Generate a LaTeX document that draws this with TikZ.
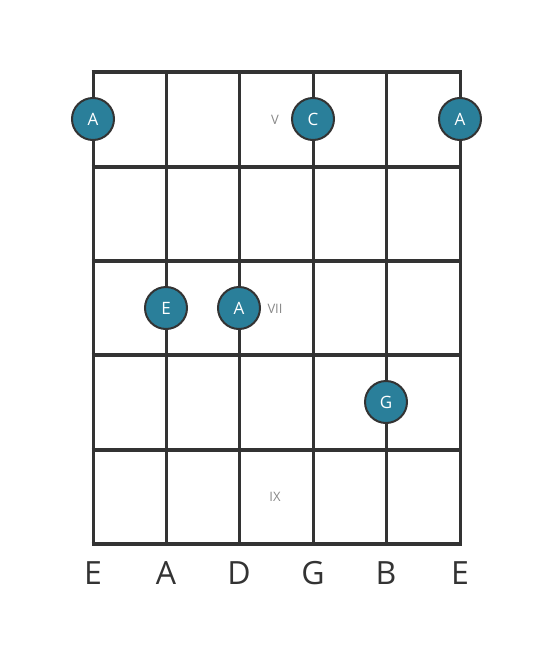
\documentclass[tikz,border=0pt]{standalone}
\usepackage{fontspec}
\setmainfont{Open Sans}
\definecolor{dotfill}{HTML}{2A7F9A}
\definecolor{ink}{HTML}{333333}
\definecolor{fretnum}{HTML}{888888}
\begin{document}
\begin{tikzpicture}[x=1pt,y=-1pt,
  stringline/.style={draw=ink,line width=3pt},
  fretline/.style={draw=ink,line width=4.5pt},
  notedot/.style={circle,fill=dotfill,draw=ink,line width=2pt,minimum size=42pt,inner sep=0pt,text=white,font=\fontsize{17}{17}\selectfont},
  fretlabel/.style={text=fretnum,font=\fontsize{13}{13}\selectfont,inner sep=0pt},
  stringname/.style={text=ink,font=\fontsize{32}{32}\selectfont,inner sep=0pt}]
\useasboundingbox (0,0) rectangle (553,656);
% strings
\foreach \x/\n in {93/s1,166/s2,239/s3,313/s4,386/s5,460/s6} {
  \coordinate (\n t) at (\x,72);
  \coordinate (\n b) at (\x,544);
  \draw[stringline] (\n t) -- (\n b);
}
% frets
\foreach \y/\n in {72/f0,167/f1,261/f2,355/f3,450/f4,544/f5} {
  \coordinate (\n l) at (91.5,\y);
  \coordinate (\n r) at (461.5,\y);
  \draw[fretline] (\n l) -- (\n r);
}
% fret numbers
\node[fretlabel] (fv) at (275,120) {V};
\node[fretlabel] (fvii) at (275,309) {VII};
\node[fretlabel] (fix) at (275,497) {IX};
% notes
\node[notedot] (n1) at (93,119) {A};
\node[notedot] (n2) at (313,119) {C};
\node[notedot] (n3) at (460,119) {A};
\node[notedot] (n4) at (166,308) {E};
\node[notedot] (n5) at (239,308) {A};
\node[notedot] (n6) at (386,402) {G};
% string names
\foreach \x/\l/\n in {93/E/e1,166/A/a1,239/D/d1,313/G/g1,386/B/b1,460/E/e2}
  \node[stringname] (\n) at (\x,573) {\l};
\end{tikzpicture}
\end{document}
